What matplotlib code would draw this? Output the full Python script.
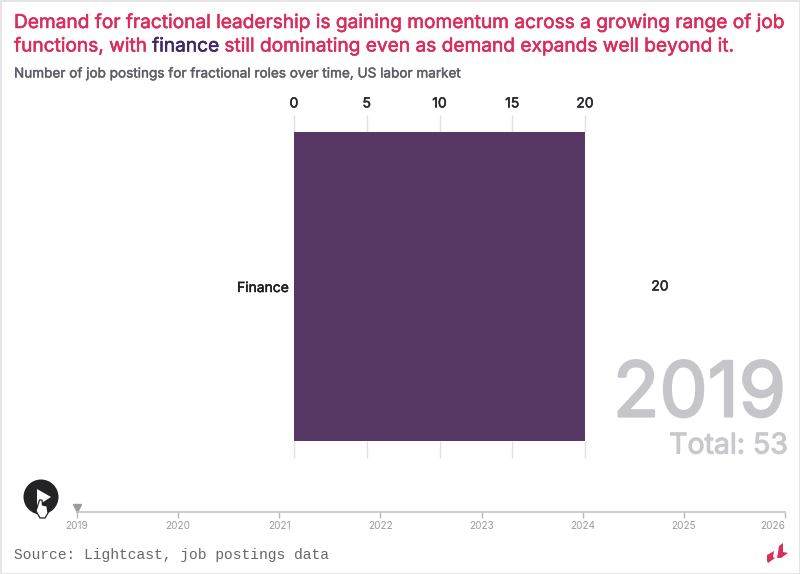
import matplotlib
matplotlib.use("Agg")
import matplotlib.pyplot as plt
import matplotlib.patheffects as pe
from matplotlib.patches import Circle, Polygon, Rectangle

categories = ["Finance"]
values = [20]
value_ticks = [0, 5, 10, 15, 20]
years = [2019, 2020, 2021, 2022, 2023, 2024, 2025, 2026]
current_year = 2019
total = 53

title_parts = [("Demand for fractional leadership is gaining momentum across a growing range of job", "#d92d5b", 0),
               ("functions, with ", "#d92d5b", 1),
               ("finance", "#3f2863", 1),
               (" still dominating even as demand expands well beyond it.", "#d92d5b", 1)]
subtitle = "Number of job postings for fractional roles over time, US labor market"
source = "Source: Lightcast, job postings data"

W, H = 800, 574
plt.rcParams["font.family"] = ["Inter", "DejaVu Sans"]
fig = plt.figure(figsize=(W / 100, H / 100), dpi=100)


def axes_px(left, top, right, bottom, **kwargs):
    return fig.add_axes([left / W, 1 - bottom / H, (right - left) / W, (bottom - top) / H], **kwargs)


def heavier(artist, width=0.35):
    # the installed Inter only has the regular weight, thicken it a little
    artist.set_path_effects([pe.withStroke(linewidth=width, foreground=artist.get_color())])
    return artist


# overlay in pixel coordinates for the decoration
over = axes_px(0, 0, W, H, zorder=0)
over.set_xlim(0, W)
over.set_ylim(H, 0)
over.axis("off")
over.add_patch(Rectangle((0, 0), W, 1.5, color="#e4e4ea", lw=0))
over.add_patch(Rectangle((0, 0), 2, H, color="#e4e4ea", lw=0))
over.add_patch(Rectangle((W - 1.5, 0), 1.5, H, color="#e4e4ea", lw=0))
over.add_patch(Rectangle((0, H - 1.5), W, 1.5, color="#e4e4ea", lw=0))

# title, coloured word by word
prev = None
for text, color, line in title_parts:
    if prev is None or line == 0 or text.startswith("functions"):
        prev = over.text(14, 23 + 23.5 * line, text, color=color, fontsize=13.76, va="center", ha="left")
    else:
        prev = over.annotate(text, xy=(1, 0), xycoords=prev, color=color, fontsize=13.76, va="bottom", ha="left")
    heavier(prev, 0.4)
heavier(over.text(14, 73.5, subtitle, color="#5e5e66", fontsize=9.76, va="center", ha="left"), 0.3)

# bars
ax = axes_px(294, 132, 585, 441, zorder=2)
ax.barh(categories, values, height=1, color="#573763", zorder=3)
ax.set_xlim(0, 20)
ax.set_ylim(-0.5, 0.5)
for spine in ax.spines.values():
    spine.set_visible(False)
ax.set_xticks(value_ticks)
ax.tick_params(axis="x", top=True, bottom=True, labeltop=True, labelbottom=False, length=12, width=1,
               color="#e2dfe6", labelsize=10, labelcolor="#26262b", pad=3.5)
ax.tick_params(axis="y", length=0, labelsize=10, labelcolor="#1e1e22", pad=3.5)
for label in ax.get_yticklabels() + ax.get_xticklabels():
    heavier(label, 0.35)
for label in ax.get_yticklabels():
    label.set_va("center_baseline")
for i, value in enumerate(values):
    heavier(ax.annotate(str(value), xy=(value, i), xytext=(75, 0), textcoords="offset pixels", va="center",
                        ha="center", fontsize=10, color="#26262b"), 0.35)

# year counter
heavier(over.text(786, 389, str(current_year), color="#c6c5ca", fontsize=55, ha="right", va="center_baseline"), 1.6)
heavier(over.text(788, 443, "Total: {}".format(total), color="#c9c8cd", fontsize=20.5, ha="right",
                  va="center_baseline"), 0.8)

# timeline slider
tl = axes_px(77, 505, 785, 512, zorder=2)
tl.set_xlim(years[0], years[-1])
tl.set_ylim(0, 1)
tl.patch.set_visible(False)
for side in ["left", "right", "top"]:
    tl.spines[side].set_visible(False)
tl.spines["bottom"].set_color("#c4c4c8")
tl.spines["bottom"].set_linewidth(1.2)
tl.set_yticks([])
tl.set_xticks(years)
tl.tick_params(axis="x", length=4, width=1, color="#b8b8bc", labelsize=7.2, labelcolor="#9a9aa0", pad=2.5)
tl.get_xticklabels()[-1].set_ha("right")
tl.plot([current_year], [0.55], marker="v", ms=6, color="#9c9c9c", clip_on=False, ls="none")

over.text(14, 555, source, family="Liberation Mono", color="#66666c", fontsize=10.57, va="center", ha="left")

# play button and cursor
over.add_patch(Circle((41, 497), 17.5, color="#232326", lw=0))
over.add_patch(Polygon([[37, 489], [37, 506], [51, 497]], color="white", lw=0))
over.add_patch(Polygon([[39.5, 500], [42, 500], [42.5, 505], [47, 506], [48, 513], [45, 518], [40, 518], [36, 511]],
                       facecolor="white", edgecolor="#222222", lw=0.9, zorder=4))

# logo
logo_color = "#d92d5b"
over.add_patch(Polygon([[767, 555], [774, 551], [773, 557], [775, 558], [768, 563], [767, 561]], color=logo_color, lw=0))
over.add_patch(Polygon([[779, 546], [783, 543], [783, 552], [788, 553], [781, 558], [777, 558], [778, 553]],
                       color=logo_color, lw=0))

fig.savefig("out.png", dpi=100)
